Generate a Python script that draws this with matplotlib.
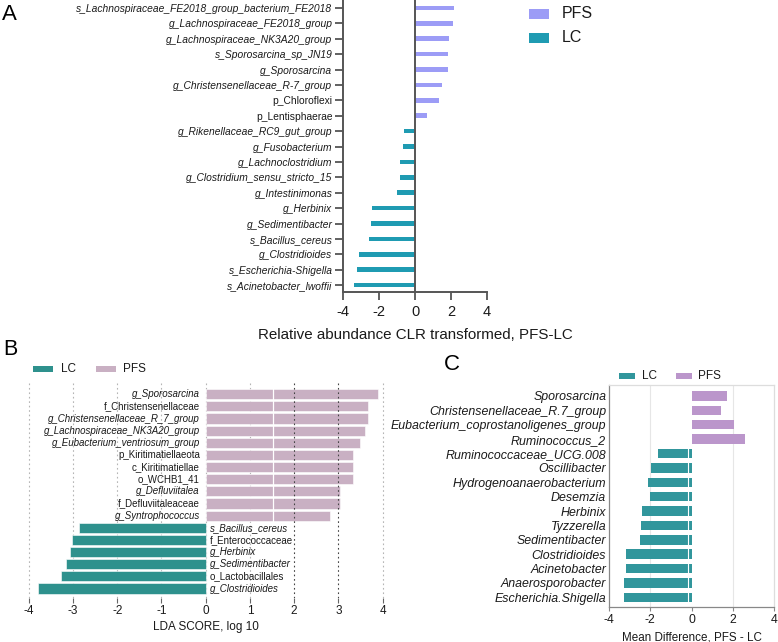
import matplotlib
matplotlib.use('Agg')
import matplotlib.pyplot as plt
from matplotlib.patches import Rectangle

plt.rcParams['font.family'] = ['Liberation Sans', 'DejaVu Sans']

# ---------------- data ----------------
a_labels = ["s_Lachnospiraceae_FE2018_group_bacterium_FE2018", "g_Lachnospiraceae_FE2018_group",
            "g_Lachnospiraceae_NK3A20_group", "s_Sporosarcina_sp_JN19", "g_Sporosarcina",
            "g_Christensenellaceae_R-7_group", "p_Chloroflexi", "p_Lentisphaerae",
            "g_Rikenellaceae_RC9_gut_group", "g_Fusobacterium", "g_Lachnoclostridium",
            "g_Clostridium_sensu_stricto_15", "g_Intestinimonas", "g_Herbinix",
            "g_Sedimentibacter", "s_Bacillus_cereus", "g_Clostridioides",
            "s_Escherichia-Shigella", "s_Acinetobacter_lwoffii"]
a_values = [2.19, 2.11, 1.91, 1.83, 1.81, 1.50, 1.31, 0.67, -0.63, -0.69, -0.81, -0.85,
            -1.02, -2.37, -2.44, -2.56, -3.13, -3.20, -3.39]

b_labels = ["g_Sporosarcina", "f_Christensenellaceae", "g_Christensenellaceae_R_7_group",
            "g_Lachnospiraceae_NK3A20_group", "g_Eubacterium_ventriosum_group",
            "p_Kiritimatiellaeota", "c_Kiritimatiellae", "o_WCHB1_41", "g_Defluviitalea",
            "f_Defluviitaleaceae", "g_Syntrophococcus", "s_Bacillus_cereus",
            "f_Enterococcaceae", "g_Herbinix", "g_Sedimentibacter", "o_Lactobacillales",
            "g_Clostridioides"]
b_values = [3.89, 3.66, 3.66, 3.61, 3.48, 3.33, 3.33, 3.33, 3.03, 3.03, 2.82,
            -2.86, -3.02, -3.06, -3.16, -3.27, -3.80]

c_labels = ["Sporosarcina", "Christensenellaceae_R.7_group", "Eubacterium_coprostanoligenes_group",
            "Ruminococcus_2", "Ruminococcaceae_UCG.008", "Oscillibacter",
            "Hydrogenoanaerobacterium", "Desemzia", "Herbinix", "Tyzzerella", "Sedimentibacter",
            "Clostridioides", "Acinetobacter", "Anaerosporobacter", "Escherichia.Shigella"]
c_values = [1.74, 1.45, 2.06, 2.58, -1.63, -1.95, -2.11, -2.02, -2.42, -2.45, -2.50,
            -3.16, -3.16, -3.26, -3.27]

groups = ["PFS", "LC"]
a_colors = {"PFS": "#9c9cf6", "LC": "#1f9bb2"}
b_colors = {"PFS": "#c9b0c3", "LC": "#2e918d"}
c_colors = {"PFS": "#bb96cb", "LC": "#31969c"}

# ---------------- figure ----------------
W, H = 778, 642
fig = plt.figure(figsize=(W / 100, H / 100), dpi=100)


def box(l, t, r, b):
    return [l / W, 1 - b / H, (r - l) / W, (b - t) / H]


def fx(x):
    return x / W


def fy(y):
    return 1 - y / H


TXT = "#1a1a1a"

# ---------------- Panel A ----------------
axA = fig.add_axes(box(343, 0, 487, 292))
ya = list(range(len(a_labels)))
colsA = [a_colors["PFS"] if v > 0 else a_colors["LC"] for v in a_values]
axA.barh(ya, a_values, height=0.3, color=colsA, zorder=2)
axA.set_xlim(-4, 4)
axA.set_ylim(len(a_labels) - 1 + 0.45, -0.52)
axA.axvline(0, color="#555555", lw=1.4, zorder=3)
for s in ["top", "right"]:
    axA.spines[s].set_visible(False)
for s in ["left", "bottom"]:
    axA.spines[s].set_color("#555555")
    axA.spines[s].set_linewidth(1.4)
axA.set_yticks(ya)
axA.set_yticklabels(a_labels, fontsize=7.4, color=TXT)
for t, lab in zip(axA.get_yticklabels(), a_labels):
    if lab.startswith(("g_", "s_")):
        t.set_style("italic")
axA.set_xticks([-4, -2, 0, 2, 4])
axA.set_xticklabels(["-4", "-2", "0", "2", "4"], fontsize=10.5, color=TXT)
axA.tick_params(axis="both", length=5.5, width=1.3, color="#555555", pad=2)
axA.tick_params(axis="x", pad=4)
axA.set_xlabel("Relative abundance CLR transformed, PFS-LC", fontsize=10.9, color=TXT, labelpad=6)

# legend A
for name, yc in [("PFS", 14), ("LC", 38)]:
    fig.add_artist(Rectangle((fx(529), fy(yc + 5)), 20 / W, 10 / H,
                             transform=fig.transFigure, color=a_colors[name], lw=0))
    fig.text(fx(562), fy(yc), name, fontsize=11.5, va="center", ha="left", color=TXT)

fig.text(fx(2), fy(15), "A", fontsize=16, va="center", ha="left", color="black")

# ---------------- Panel B ----------------
axB = fig.add_axes(box(23.1, 381, 388.3, 598))
yb = list(range(len(b_labels)))
colsB = [b_colors["PFS"] if v > 0 else b_colors["LC"] for v in b_values]
axB.barh(yb, b_values, height=0.84, color=colsB, edgecolor="white", linewidth=0.4, zorder=2)
axB.set_xlim(-4.13, 4.13)
axB.set_ylim(len(b_labels) - 1 + 0.78, -1.09)
for xv in [-4, -3, -2, -1, 0, 1, 4]:
    axB.axvline(xv, color="#b5b5b5", lw=0.8, ls=(0, (1.5, 2.5)), zorder=1)
for xv in [2, 3]:
    axB.axvline(xv, color="#444444", lw=0.8, ls=(0, (1.5, 2.5)), zorder=3)
axB.axvline(1.53, color="white", lw=0.9, zorder=2.5)
for s in axB.spines.values():
    s.set_visible(False)
axB.set_yticks([])
axB.set_xticks(range(-4, 5))
axB.set_xticklabels([str(v) for v in range(-4, 5)], fontsize=8.5, color=TXT)
axB.tick_params(axis="x", length=3.5, width=0.8, color="#666666", pad=1.5)
axB.set_xlabel("LDA SCORE, log 10", fontsize=8.5, color=TXT, labelpad=3)
for y, lab, v in zip(yb, b_labels, b_values):
    st = "italic" if lab.startswith(("g_", "s_")) else "normal"
    if v > 0:
        axB.text(-0.13, y, lab, ha="right", va="center", fontsize=7.0, style=st, color=TXT)
    else:
        axB.text(0.1, y, lab, ha="left", va="center", fontsize=7.0, style=st, color=TXT)

for name, xp, xt in [("LC", 33, 61), ("PFS", 96, 123)]:
    fig.add_artist(Rectangle((fx(xp), fy(372)), 20 / W, 6 / H,
                             transform=fig.transFigure, color=b_colors[name], lw=0))
    fig.text(fx(xt), fy(369), name, fontsize=8.5, va="center", ha="left", color=TXT)

fig.text(fx(3), fy(350), "B", fontsize=15.5, va="center", ha="left", color="black")

# ---------------- Panel C ----------------
axC = fig.add_axes(box(609, 385, 774, 606.7))
yc_ = list(range(len(c_labels)))
colsC = [c_colors["PFS"] if v > 0 else c_colors["LC"] for v in c_values]
axC.barh(yc_, c_values, height=0.66, color=colsC, zorder=2)
axC.set_xlim(-4, 4)
axC.set_ylim(len(c_labels) - 1 + 0.65, -0.76)
for xv in [-2, 2]:
    axC.axvline(xv, color="#e6e6e6", lw=0.8, zorder=1)
axC.axvline(-0.16, color="white", lw=0.8, zorder=2.5)
axC.spines["left"].set_color("#888888")
axC.spines["bottom"].set_color("#888888")
axC.spines["top"].set_color("#dddddd")
axC.spines["right"].set_color("#dddddd")
for s in axC.spines.values():
    s.set_linewidth(0.9)
axC.set_yticks(yc_)
axC.set_yticklabels(c_labels, fontsize=8.9, style="italic", color=TXT)
axC.set_xticks([-4, -2, 0, 2, 4])
axC.set_xticklabels(["-4", "-2", "0", "2", "4"], fontsize=8.8, color=TXT)
axC.tick_params(axis="y", length=0, pad=2)
axC.tick_params(axis="x", length=3, width=0.8, color="#888888", pad=2)
axC.set_xlabel("Mean Difference, PFS - LC", fontsize=8.4, color=TXT, labelpad=4)

for name, xp, xt in [("LC", 619, 642), ("PFS", 676, 698)]:
    fig.add_artist(Rectangle((fx(xp), fy(379)), 16 / W, 6 / H,
                             transform=fig.transFigure, color=c_colors[name], lw=0))
    fig.text(fx(xt), fy(376), name, fontsize=8.5, va="center", ha="left", color=TXT)

fig.text(fx(444), fy(365), "C", fontsize=16, va="center", ha="left", color="black")

fig.savefig("out.png", dpi=100)
